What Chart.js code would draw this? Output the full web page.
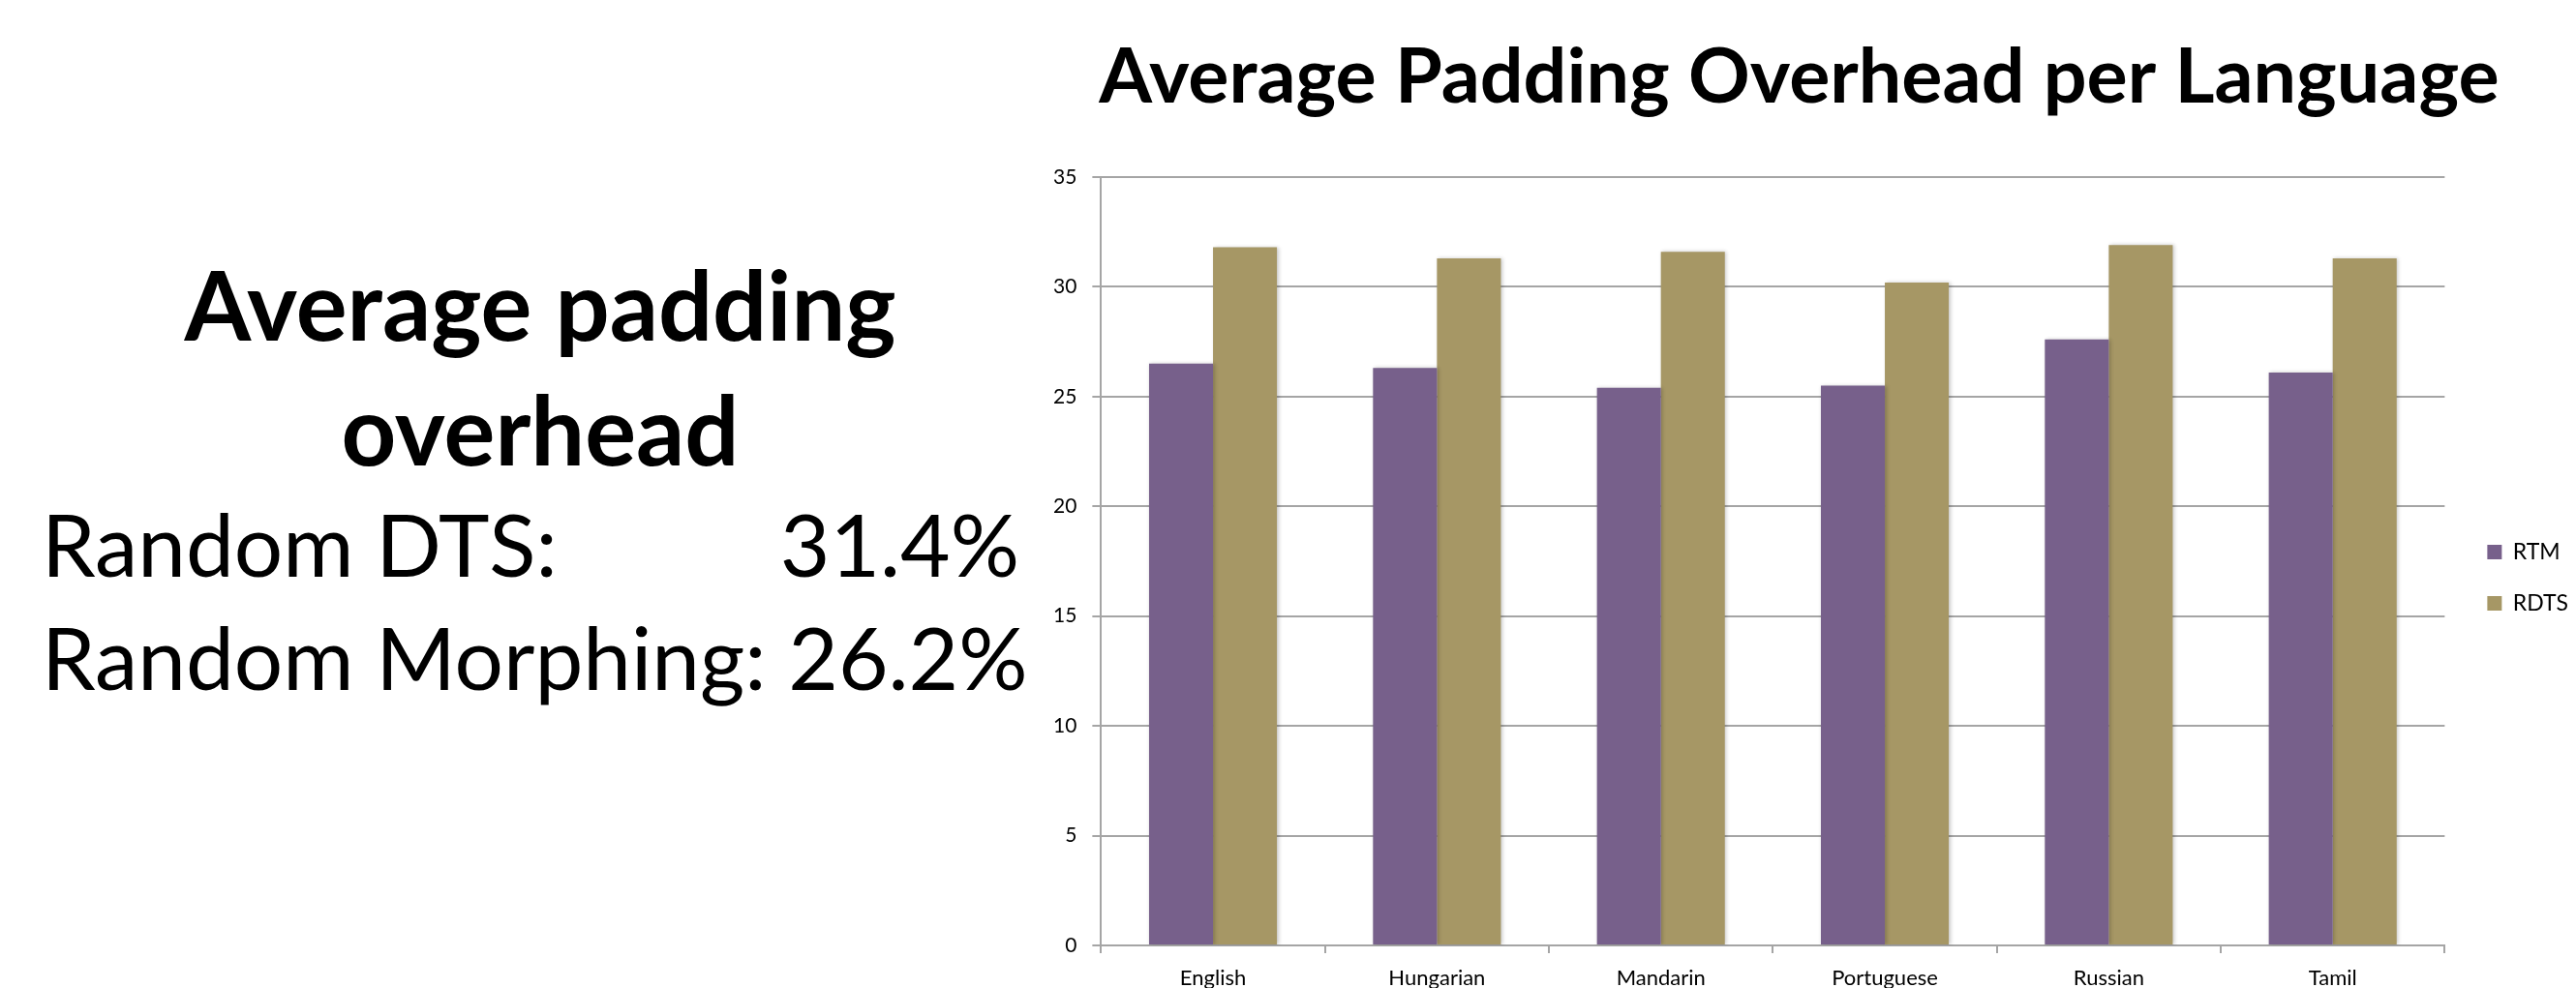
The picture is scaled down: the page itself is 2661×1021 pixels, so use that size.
<!DOCTYPE html>
<html>
<head>
<meta charset="utf-8">
<script src="https://cdn.jsdelivr.net/npm/chart.js@4.4.1/dist/chart.umd.min.js"></script>
<style>
  html, body { margin: 0; padding: 0; background: #ffffff; }
  body { width: 2661px; height: 1021px; overflow: hidden; position: relative; font-family: Lato, "Open Sans", sans-serif; color: #000; }
  .t { position: absolute; white-space: nowrap; line-height: 1; }
  .h { font-weight: 700; font-size: 99px; text-align: center; width: 1000px; left: 58px; }
  .r { font-weight: 400; font-size: 89px; left: 43px; width: 1010px; display: flex; justify-content: space-between; }
  #wrap { position: absolute; top: 0; }
</style>
</head>
<body>
<div class="t h" style="top:264px;">Average padding</div>
<div class="t h" style="top:393px;">overhead</div>
<div class="t r" style="top:517px;"><span>Random DTS:</span><span>31.4%</span></div>
<div class="t r" style="top:634px;"><span>Random Morphing: 26.2%</span></div>
<div id="wrap"><canvas id="c"></canvas></div>
<script>
const chartTitle = "Average Padding Overhead per Language";
const categories = ["English", "Hungarian", "Mandarin", "Portuguese", "Russian", "Tamil"];
const seriesNames = ["RTM", "RDTS"];
const rtmValues = [26.5, 26.3, 25.4, 25.5, 27.6, 26.1];
const rdtsValues = [31.8, 31.3, 31.6, 30.2, 31.9, 31.3];
const yTicks = [0, 5, 10, 15, 20, 25, 30, 35];

// layout targets (page px)
const plotLeft = 1137, plotTop = 183, plotBottom = 977, legendLeft = 2539, titleCenter = 1858;
const canvasH = 1194;
const legFont = 23, legBox = 15, legPad = 30;

const mctx = document.createElement('canvas').getContext('2d');
mctx.font = legFont + 'px Lato';
const textW = Math.max(...seriesNames.map(s => mctx.measureText(s).width));
const legendW = legPad + legBox + legFont / 2 + textW + 10;
const canvasRight = legendLeft + legendW;
const canvasW = Math.round(2 * (canvasRight - titleCenter));
const canvasL = canvasRight - canvasW;

const wrap = document.getElementById('wrap');
wrap.style.left = canvasL + 'px';
const cv = document.getElementById('c');
cv.width = canvasW; cv.height = canvasH;
cv.style.width = canvasW + 'px'; cv.style.height = canvasH + 'px';

const shadowPlugin = {
  id: 'barShadow',
  beforeDatasetsDraw(chart) {
    const ctx = chart.ctx;
    ctx.save();
    ctx.shadowColor = 'rgba(0,0,0,0.22)';
    ctx.shadowBlur = 4;
    ctx.shadowOffsetX = 1.5;
    ctx.shadowOffsetY = 0;
  },
  afterDatasetsDraw(chart) { chart.ctx.restore(); }
};

const gridGray = '#a5a5a5';
const titleSize = 79, titleLH = titleSize * 1.2, titlePadTop = 33;
new Chart(cv, {
  type: 'bar',
  data: {
    labels: categories,
    datasets: [
      { label: seriesNames[0], data: rtmValues, backgroundColor: '#77608b', borderWidth: 0 },
      { label: seriesNames[1], data: rdtsValues, backgroundColor: '#a69765', borderWidth: 0 }
    ]
  },
  options: {
    responsive: false,
    animation: false,
    devicePixelRatio: 1,
    layout: { padding: 0 },
    datasets: { bar: { categoryPercentage: 0.571, barPercentage: 1.0 } },
    plugins: {
      title: {
        display: true,
        text: chartTitle,
        color: '#000',
        font: { family: 'Lato', size: titleSize, weight: '700', lineHeight: 1.2 },
        padding: { top: titlePadTop, bottom: plotTop - titlePadTop - titleLH }
      },
      legend: {
        display: true,
        position: 'right',
        align: 'center',
        labels: {
          boxWidth: legBox,
          boxHeight: legBox,
          padding: legPad,
          color: '#000',
          font: { family: 'Lato', size: legFont }
        }
      },
      tooltip: { enabled: false }
    },
    scales: {
      x: {
        grid: { display: true, drawOnChartArea: false, drawTicks: true, tickLength: 8, color: gridGray, lineWidth: 2, offset: true },
        border: { display: true, color: gridGray, width: 2 },
        ticks: { color: '#000', font: { family: 'Lato', size: 22 }, padding: 13, maxRotation: 0 },
        afterFit(s) { s.height = canvasH - plotBottom; }
      },
      y: {
        min: 0, max: 35,
        afterBuildTicks(s) { s.ticks = yTicks.map(v => ({ value: v })); },
        grid: { color: gridGray, lineWidth: 2, tickLength: 9, drawTicks: true },
        border: { display: true, color: gridGray, width: 2 },
        ticks: { color: '#000', font: { family: 'Lato', size: 21 }, padding: 16 },
        afterFit(s) { s.width = plotLeft - canvasL; }
      },
      spacer: {
        type: 'linear',
        position: 'right',
        display: true,
        grid: { display: false, drawTicks: false },
        border: { display: false },
        ticks: { display: false },
        afterFit(s) { s.width = 14; }
      }
    }
  },
  plugins: [shadowPlugin]
});
</script>
</body>
</html>
